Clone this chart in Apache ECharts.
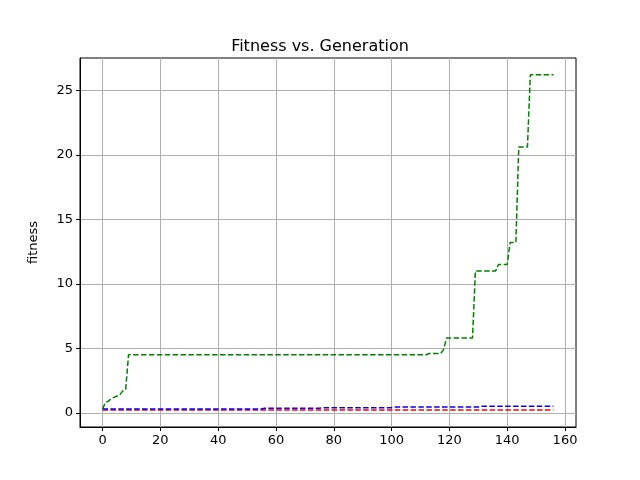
<!DOCTYPE html>
<html>
<head>
<meta charset="utf-8" />
<script src="https://cdn.jsdelivr.net/npm/echarts@6.0.0/dist/echarts.min.js"></script>
</head>
<body style="margin:0">
<div id="chart" style="width:640px;height:480px"></div>
<script>
var xTicks = [0, 20, 40, 60, 80, 100, 120, 140, 160];
var yTicks = [0, 5, 10, 15, 20, 25];
var greenBest = [[0,0.3],[1,0.8],[2,0.9],[3,1.1],[4,1.2],[5,1.3],[6,1.4],[7,1.7],[8,1.8],[9,4.5],
  [112,4.5],[113,4.6],[117,4.6],[118,4.9],[119,5.8],[128,5.8],[129,11.0],[136,11.0],[137,11.5],
  [140,11.5],[141,13.2],[143,13.2],[144,20.6],[147,20.6],[148,26.2],[156,26.2]];
var blueMean = [[0,0.3],[55,0.3],[56,0.35],[75,0.35],[76,0.4],[100,0.4],[101,0.45],[130,0.45],[131,0.5],[156,0.5]];
var redWorst = [[0,0.22],[156,0.22]];

var font = "DejaVu Sans";
function axis(min, max, ticks) {
  return {
    type: "value", min: min, max: max,
    axisLine: { show: true, onZero: false, lineStyle: { color: "#000", width: 1 } },
    axisTick: { show: true, inside: false, length: 4, customValues: ticks, lineStyle: { color: "#000" } },
    axisLabel: { customValues: ticks, color: "#000", fontFamily: font, fontSize: 13, margin: 7 },
    splitLine: { show: true, lineStyle: { color: "#b0b0b0", width: 1 } }
  };
}
var xa = axis(-7.8, 163.8, xTicks);
var ya = axis(-1.1, 27.5, yTicks);
ya.name = "fitness";
ya.nameLocation = "middle";
ya.nameGap = 40;
ya.nameTextStyle = { color: "#000", fontFamily: font, fontSize: 13 };

function series(data, color) {
  return { type: "line", data: data, symbol: "none", animation: false,
    lineStyle: { color: color, width: 1.5, type: [5.5, 2.4] } };
}

var chart = echarts.init(document.getElementById("chart"));
chart.setOption({
  animation: false,
  backgroundColor: "#fff",
  title: { text: "Fitness vs. Generation", left: "center", top: 34,
    textStyle: { color: "#000", fontFamily: font, fontSize: 16, fontWeight: "normal" } },
  grid: { left: 80, right: 64, top: 58, bottom: 53, show: true, borderColor: "#000", borderWidth: 1 },
  xAxis: [xa],
  yAxis: [ya],
  series: [series(redWorst, "#ff0000"), series(blueMean, "#0000ff"), series(greenBest, "#008000")]
});
</script>
</body>
</html>
